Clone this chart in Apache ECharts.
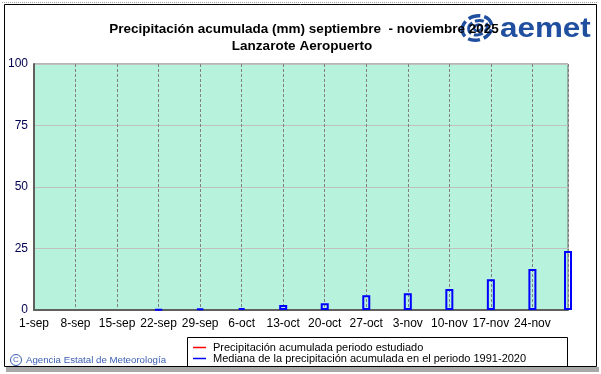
<!DOCTYPE html>
<html><head><meta charset="utf-8">
<script src="https://cdn.jsdelivr.net/npm/echarts@6/dist/echarts.min.js"></script>
<style>html,body{margin:0;padding:0;background:#fff}#c{width:601px;height:374px}</style>
</head><body><div id="c"></div>
<script>
// ---- data ----
const weekDays = [0, 7, 14, 21, 28, 35, 42, 49, 56, 63, 70, 77, 84];
const weekLabels = ['1-sep', '8-sep', '15-sep', '22-sep', '29-sep', '6-oct', '13-oct', '20-oct', '27-oct', '3-nov', '10-nov', '17-nov', '24-nov'];
const medianDays = [21, 28, 35, 42, 49, 56, 63, 70, 77, 84, 90];
const medianValues = [0.3, 0.6, 0.8, 2.0, 2.7, 6.0, 6.8, 8.5, 12.5, 16.7, 24.0];
const periodDays = [];
const periodValues = [];
const yTicks = [0, 25, 50, 75, 100];
const titleLine1 = 'Precipitación acumulada (mm) septiembre  - noviembre 2025';
const titleLine2 = 'Lanzarote Aeropuerto';
const nameStudied = 'Precipitación acumulada periodo estudiado';
const nameMedian = 'Mediana de la precipitación acumulada en el periodo 1991-2020';

const chart = echarts.init(document.getElementById('c'), null, {renderer: 'canvas'});
const FONT = 'Liberation Sans, Arial, sans-serif';
const logoBlue = '#1f4f9e';

chart.setOption({
  animation: false,
  backgroundColor: '#ffffff',
  title: [
    {text: titleLine1, left: 299, top: 17, textAlign: 'center',
     textStyle: {fontFamily: FONT, fontSize: 13.5, fontWeight: 'bold', color: '#000'}},
    {text: titleLine2, left: 297, top: 34, textAlign: 'center',
     textStyle: {fontFamily: FONT, fontSize: 13.5, fontWeight: 'bold', color: '#000'}}
  ],
  grid: {left: 34, right: 33, top: 64, bottom: 64, show: true,
         backgroundColor: '#b6f2dc', borderColor: '#6a6a6a', borderWidth: 1},
  legend: {
    orient: 'vertical', left: 193, top: 342, padding: 0, itemGap: 0,
    itemWidth: 13, itemHeight: 1.5,
    textStyle: {fontFamily: FONT, fontSize: 11, color: '#000', lineHeight: 11, padding: [0, 0, 0, 2]},
    data: [
      {name: nameStudied, icon: 'rect', itemStyle: {color: '#ff0000', borderWidth: 0}},
      {name: nameMedian, icon: 'rect', itemStyle: {color: '#0000ff', borderWidth: 0}}
    ]
  },
  xAxis: {
    type: 'value', min: 0, max: 90, interval: 7,
    axisLine: {show: true, onZero: false, lineStyle: {color: '#606060', width: 2}},
    axisTick: {show: false},
    axisLabel: {fontFamily: FONT, fontSize: 12, color: '#000', margin: 8, showMaxLabel: false,
      formatter: v => { const i = weekDays.indexOf(v); return i >= 0 ? weekLabels[i] : ''; }},
    splitLine: {show: true, lineStyle: {color: '#808080', type: [3, 2], width: 1}}
  },
  yAxis: {
    type: 'value', min: yTicks[0], max: yTicks[yTicks.length - 1], interval: 25,
    axisLine: {show: true, lineStyle: {color: '#606060', width: 2}},
    axisTick: {show: false},
    axisLabel: {fontFamily: FONT, fontSize: 12, color: '#000050', margin: 6},
    splitLine: {show: true, lineStyle: {color: '#c0c0c0', width: 1}}
  },
  series: [
    {name: nameStudied, type: 'line', color: '#ff0000', showSymbol: false,
     data: periodDays.map((d, i) => [d, periodValues[i]])},
    {name: nameMedian, type: 'bar', barWidth: 8, clip: false,
     itemStyle: {color: 'rgba(0,0,0,0)', borderColor: '#0000ff', borderWidth: 2},
     data: medianDays.map((d, i) => [d, medianValues[i]])}
  ],
  graphic: [
    {type: 'line', shape: {x1: 2, y1: 2.5, x2: 598, y2: 2.5}, style: {stroke: '#a0a0a0', lineWidth: 1, lineDash: [1, 1]}},
    {type: 'rect', shape: {x: 6, y: 367, width: 593, height: 5}, style: {fill: '#a8a8a8'}},
    {type: 'rect', shape: {x: 4.5, y: 4.5, width: 592, height: 362}, style: {fill: 'none', stroke: '#000', lineWidth: 1}},
    // legend box
    {type: 'rect', shape: {x: 187.5, y: 337.5, width: 380, height: 29}, style: {fill: 'none', stroke: '#000', lineWidth: 1}, z: 10},
    // copyright
    {type: 'circle', shape: {cx: 16, cy: 360, r: 5.5}, style: {fill: 'none', stroke: '#3b5db5', lineWidth: 1}},
    {type: 'text', x: 16, y: 360, style: {text: 'C', font: '8px ' + FONT, fill: '#3b5db5', align: 'center', verticalAlign: 'middle'}},
    {type: 'text', x: 26, y: 360, style: {text: 'Agencia Estatal de Meteorología', font: '9.7px ' + FONT, fill: '#3b5db5', verticalAlign: 'middle'}},
    // logo
    {type: 'group', x: 477, y: 28, rotation: 0.3, z: 20, children: [
      {type: 'ellipse', shape: {cx: 0, cy: 0, rx: 15, ry: 12}, style: {fill: 'none', stroke: logoBlue, lineWidth: 3.5, lineDash: [12, 4]}},
      {type: 'ellipse', shape: {cx: 1, cy: 0, rx: 9.5, ry: 7}, style: {fill: 'none', stroke: logoBlue, lineWidth: 3, lineDash: [9, 3]}},
      {type: 'ellipse', shape: {cx: 1, cy: 0, rx: 4, ry: 3}, style: {fill: 'none', stroke: logoBlue, lineWidth: 2.5}}
    ]},
    {type: 'text', x: 500, y: 29, scaleX: 1.12, z: 20, style: {text: 'aemet', font: 'bold 28px ' + FONT, fill: logoBlue, verticalAlign: 'middle'}}
  ]
});
</script></body></html>
